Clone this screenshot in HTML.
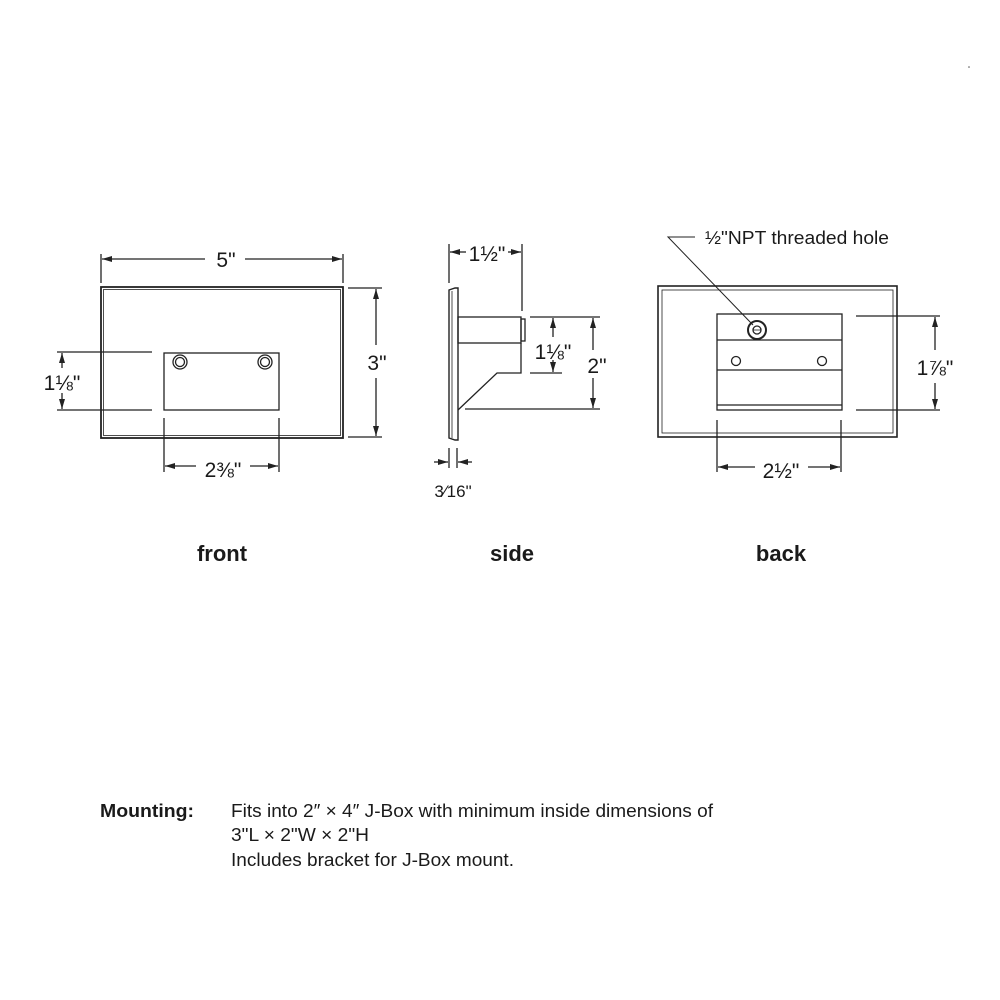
<!DOCTYPE html>
<html><head><meta charset="utf-8"><style>
html,body{margin:0;padding:0;background:#fff;}
svg{display:block;}
text{font-family:"Liberation Sans",sans-serif;fill:#1a1a1a;}
</style></head><body>
<svg width="1000" height="1000" viewBox="0 0 1000 1000" xmlns="http://www.w3.org/2000/svg">
<defs>
<marker id="a" viewBox="0 0 10 6" refX="10" refY="3" markerWidth="10" markerHeight="6" orient="auto-start-reverse" markerUnits="userSpaceOnUse">
<path d="M0,0 L10,3 L0,6 z" fill="#222"/></marker>
</defs>
<g stroke="#222" stroke-width="1.3" fill="none">
<!-- FRONT -->
<rect x="101" y="287" width="242" height="151" stroke-width="1.8"/>
<rect x="103.5" y="289.5" width="237" height="146" stroke-width="0.8"/>
<rect x="164" y="353" width="115" height="57"/>
<circle cx="180" cy="362" r="7"/><circle cx="180" cy="362" r="4.5"/>
<circle cx="265" cy="362" r="7"/><circle cx="265" cy="362" r="4.5"/>
<line x1="101" y1="254" x2="101" y2="283"/><line x1="343" y1="254" x2="343" y2="283"/>
<line x1="102" y1="259" x2="205" y2="259" marker-start="url(#a)"/>
<line x1="245" y1="259" x2="342" y2="259" marker-end="url(#a)"/>
<line x1="348" y1="288" x2="382" y2="288"/><line x1="348" y1="437" x2="382" y2="437"/>
<line x1="376" y1="289" x2="376" y2="345" marker-start="url(#a)"/>
<line x1="376" y1="378" x2="376" y2="436" marker-end="url(#a)"/>
<line x1="57" y1="352" x2="152" y2="352"/><line x1="57" y1="410" x2="152" y2="410"/>
<line x1="62" y1="353" x2="62" y2="368" marker-start="url(#a)"/>
<line x1="62" y1="393" x2="62" y2="409" marker-end="url(#a)"/>
<line x1="164" y1="418" x2="164" y2="472"/><line x1="279" y1="418" x2="279" y2="472"/>
<line x1="165" y1="466" x2="196" y2="466" marker-start="url(#a)"/>
<line x1="250" y1="466" x2="278" y2="466" marker-end="url(#a)"/>
<!-- SIDE -->
<path d="M449,290 L455,288 L458,288 L458,440 L455,440 L449,438 Z" stroke-width="1.4"/>
<line x1="452" y1="291" x2="452" y2="438" stroke-width="0.8"/>
<rect x="458" y="317" width="63" height="26"/>
<rect x="521" y="319" width="4" height="22"/>
<path d="M521,343 L521,373 L497,373 L458,410"/>
<line x1="449" y1="244" x2="449" y2="283"/><line x1="522" y1="244" x2="522" y2="311"/>
<line x1="450" y1="252" x2="466" y2="252" marker-start="url(#a)"/>
<line x1="508" y1="252" x2="521" y2="252" marker-end="url(#a)"/>
<line x1="530" y1="317" x2="600" y2="317"/><line x1="530" y1="373" x2="562" y2="373"/>
<line x1="465" y1="409" x2="600" y2="409"/>
<line x1="553" y1="318" x2="553" y2="337" marker-start="url(#a)"/>
<line x1="553" y1="360" x2="553" y2="372" marker-end="url(#a)"/>
<line x1="593" y1="318" x2="593" y2="350" marker-start="url(#a)"/>
<line x1="593" y1="378" x2="593" y2="408" marker-end="url(#a)"/>
<line x1="449" y1="448" x2="449" y2="468"/><line x1="457" y1="448" x2="457" y2="468"/>
<line x1="434" y1="462" x2="448" y2="462" marker-end="url(#a)"/>
<line x1="472" y1="462" x2="458" y2="462" marker-end="url(#a)"/>
<!-- BACK -->
<rect x="658" y="286" width="239" height="151" stroke-width="1.6"/>
<rect x="662" y="290" width="231" height="143" stroke-width="0.8"/>
<rect x="717" y="314" width="125" height="96"/>
<line x1="717" y1="340" x2="842" y2="340"/>
<line x1="717" y1="370" x2="842" y2="370"/>
<line x1="717" y1="405" x2="842" y2="405"/>
<circle cx="757" cy="330" r="9" stroke-width="2"/>
<circle cx="757" cy="330" r="4"/>
<line x1="753" y1="330" x2="761" y2="330" stroke-width="0.8"/>
<circle cx="736" cy="361" r="4.5"/><circle cx="822" cy="361" r="4.5"/>
<path d="M753,325 L668,237 L695,237" stroke-width="1"/>
<line x1="856" y1="316" x2="940" y2="316"/><line x1="856" y1="410" x2="940" y2="410"/>
<line x1="935" y1="317" x2="935" y2="350" marker-start="url(#a)"/>
<line x1="935" y1="383" x2="935" y2="409" marker-end="url(#a)"/>
<line x1="717" y1="420" x2="717" y2="472"/><line x1="841" y1="420" x2="841" y2="472"/>
<line x1="718" y1="467" x2="755" y2="467" marker-start="url(#a)"/>
<line x1="808" y1="467" x2="840" y2="467" marker-end="url(#a)"/>
</g>
<g font-size="21" text-anchor="middle">
<text x="226" y="267">5"</text>
<text x="377" y="370">3"</text>
<text x="62" y="390">1⅛"</text>
<text x="223" y="477">2⅜"</text>
<text x="487" y="261">1½"</text>
<text x="553" y="359">1⅛"</text>
<text x="597" y="373">2"</text>
<text x="453" y="497" font-size="17">3⁄16"</text>
<text x="935" y="375">1⅞"</text>
<text x="781" y="478">2½"</text>
</g>
<text x="705" y="244" font-size="18" textLength="184" lengthAdjust="spacingAndGlyphs">½"NPT threaded hole</text>
<g font-size="22" font-weight="bold" text-anchor="middle">
<text x="222" y="561">front</text>
<text x="512" y="561">side</text>
<text x="781" y="561">back</text>
</g>
<text x="100" y="817" font-size="18" font-weight="bold" textLength="94" lengthAdjust="spacingAndGlyphs">Mounting:</text>
<g font-size="18">
<text x="231" y="817" textLength="482" lengthAdjust="spacingAndGlyphs">Fits into 2″ × 4″ J-Box with minimum inside dimensions of</text>
<text x="231" y="841" textLength="138" lengthAdjust="spacingAndGlyphs">3"L × 2"W × 2"H</text>
<text x="231" y="866" textLength="283" lengthAdjust="spacingAndGlyphs">Includes bracket for J-Box mount.</text>
</g>
<circle cx="969" cy="67" r="0.8" fill="#555"/>
</svg>
</body></html>
